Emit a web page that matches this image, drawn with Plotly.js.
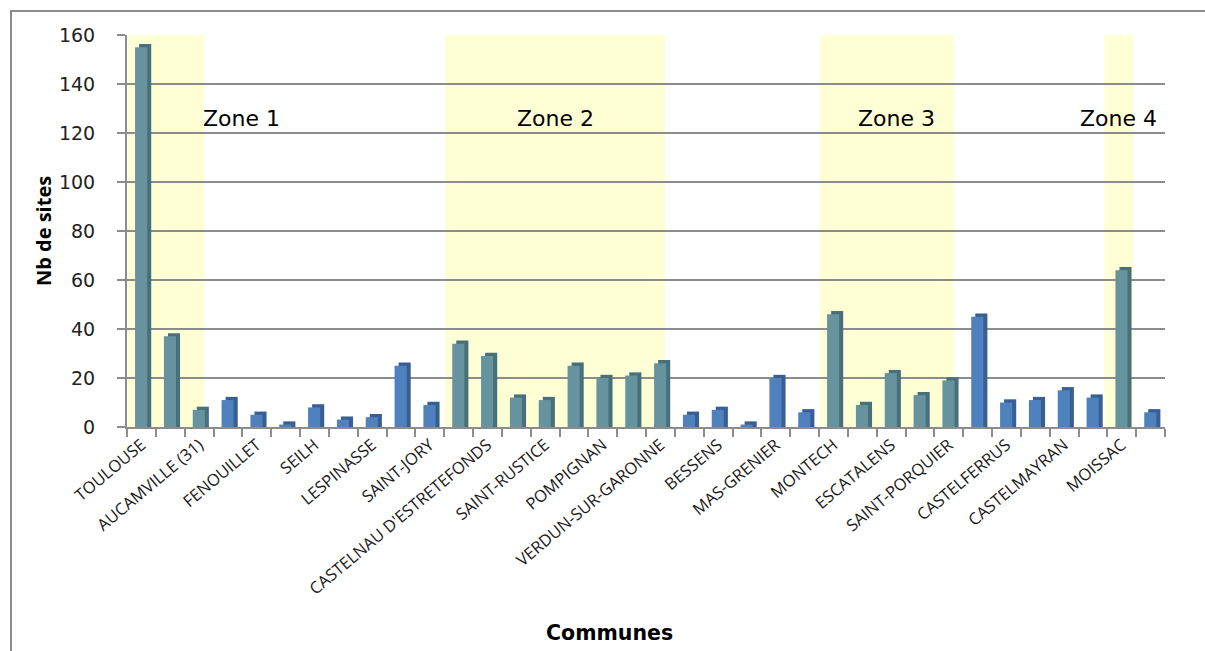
<!DOCTYPE html>
<html>
<head>
<meta charset="utf-8">
<script src="https://cdn.plot.ly/plotly-3.0.1.min.js"></script>
<style>
  html, body { margin: 0; padding: 0; background: #ffffff; }
  #wrap { position: relative; width: 1205px; height: 651px; overflow: hidden; }
  #frame { position: absolute; left: 10px; top: 10px; width: 1300px; height: 800px;
           border-left: 2px solid #8c8c8c; border-top: 2px solid #8c8c8c; pointer-events: none; z-index: 5; }
  #chart { position: absolute; left: 0; top: 0; width: 1205px; height: 651px; }
</style>
</head>
<body>
<div id="wrap">
  <div id="chart"></div>
  <div id="frame"></div>
</div>
<script>
// ---- data ----
// Every other commune is labelled on the axis (the labelled ones are listed here, in order).
const communeLabels = [
  "TOULOUSE", "AUCAMVILLE (31)", "FENOUILLET", "SEILH", "LESPINASSE", "SAINT-JORY",
  "CASTELNAU D'ESTRETEFONDS", "SAINT-RUSTICE", "POMPIGNAN", "VERDUN-SUR-GARONNE",
  "BESSENS", "MAS-GRENIER", "MONTECH", "ESCATALENS", "SAINT-PORQUIER",
  "CASTELFERRUS", "CASTELMAYRAN", "MOISSAC"
];
// Nb de sites, one value per commune (36 communes, left to right)
const siteCounts = [
  155, 37, 7, 11, 5, 1, 8, 3, 4, 25, 9,
  34, 29, 12, 11, 25, 20, 21, 26,
  5, 7, 1, 20, 6,
  46, 9, 22, 13, 19,
  45, 10, 11, 15, 12,
  64, 6
];
// Zones: first and last commune index (0-based) of each zone
const zoneNames = ["Zone 1", "Zone 2", "Zone 3", "Zone 4"];
const zoneFirst = [0, 11, 24, 34];
const zoneLast  = [2, 18, 28, 34];
const yTicks = [0, 20, 40, 60, 80, 100, 120, 140, 160];
const xTitle = "Communes";
const yTitle = "Nb de sites";

// ---- build ----
const idx = siteCounts.map((_, i) => i);
const inZone = idx.map(i => zoneFirst.some((f, z) => i >= f && i <= zoneLast[z]));
const frontCol = inZone.map(z => z ? "#66939e" : "#4f81bd");
const sideCol  = inZone.map(z => z ? "#47707a" : "#385f94");
const labelIdx = communeLabels.map((_, k) => 2 * k);
const boundaries = idx.map(i => i - 0.5).concat([siteCounts.length - 0.5]);

const sideTrace = {
  type: "bar", x: idx, y: siteCounts.map(v => v + 1.3),
  width: 0.42, offset: -0.08,
  marker: { color: sideCol, line: { width: 0 } },
  hoverinfo: "skip", showlegend: false
};
const frontTrace = {
  type: "bar", x: idx, y: siteCounts, name: yTitle,
  width: 0.42, offset: -0.22,
  marker: { color: frontCol, line: { width: 0 } },
  showlegend: false
};

const zoneX0 = zoneFirst.map((f, z) => f - (zoneFirst[z] === zoneLast[z] ? 0.6 : 0.47));
const zoneX1 = zoneLast.map((l, z) => l + (zoneFirst[z] === zoneLast[z] ? 0.4 : 0.17));

const shapes = zoneFirst.map((f, z) => ({
  type: "rect", layer: "below", xref: "x", yref: "y",
  x0: zoneX0[z], x1: zoneX1[z], y0: 0, y1: 160,
  fillcolor: "#ffffd6", line: { width: 0 }
}));

const annotations = zoneNames.map((n, z) => {
  const first = z === 0;
  return {
    text: n, xref: "x", yref: "y", showarrow: false,
    x: first ? zoneX1[z] - 0.12 : (zoneX0[z] + zoneX1[z]) / 2 + (z === 2 ? 0.35 : 0),
    xanchor: first ? "left" : "center",
    y: 126, yanchor: "middle",
    font: { family: "DejaVu Sans", size: 22, color: "#000000" }
  };
});
annotations.push({
  text: "<b>" + xTitle + "</b>", xref: "paper", yref: "paper",
  x: 0.465, y: -0.525, xanchor: "center", yanchor: "middle", showarrow: false,
  font: { family: "DejaVu Sans", size: 20.5, color: "#000000" }
});

const layout = {
  width: 1205, height: 651,
  paper_bgcolor: "#ffffff", plot_bgcolor: "#ffffff",
  margin: { l: 127, r: 40, t: 35, b: 224 },
  barmode: "overlay",
  showlegend: false,
  xaxis: {
    range: [-0.5, siteCounts.length - 0.5],
    tickmode: "array", tickvals: labelIdx, ticktext: communeLabels,
    tickangle: -40, ticks: "",
    tickfont: { family: "Open Sans", size: 16.5, color: "#1a1a1a" },
    minor: { tickmode: "array", tickvals: boundaries, ticks: "outside", ticklen: 8, tickwidth: 2, tickcolor: "#8c8c8c", showgrid: false },
    showgrid: false, zeroline: false,
    showline: true, linecolor: "#8c8c8c", linewidth: 2
  },
  yaxis: {
    range: [0, 160], tickmode: "array", tickvals: yTicks,
    ticks: "outside", ticklen: 8, tickwidth: 2, tickcolor: "#8c8c8c",
    ticklabelstandoff: 18,
    tickfont: { family: "DejaVu Sans", size: 19, color: "#222222" },
    showgrid: true, gridcolor: "#8c8c8c", gridwidth: 2,
    zeroline: false,
    showline: true, linecolor: "#8c8c8c", linewidth: 2,
    title: { text: "<b>" + yTitle + "</b>", font: { family: "Open Sans", size: 20, color: "#000000" }, standoff: 2 }
  },
  shapes: shapes,
  annotations: annotations
};

Plotly.newPlot("chart", [sideTrace, frontTrace], layout, { displayModeBar: false, staticPlot: true });
</script>
</body>
</html>
